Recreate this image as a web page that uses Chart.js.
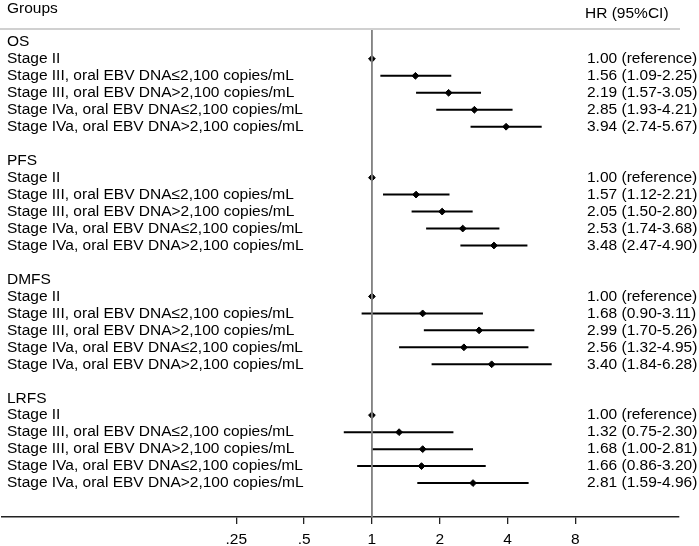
<!DOCTYPE html>
<html>
<head>
<meta charset="utf-8">
<script src="https://cdn.jsdelivr.net/npm/chart.js@4.4.0/dist/chart.umd.min.js"></script>
<style>
	html, body { margin: 0; padding: 0; background: #fff; }
	#wrap { width: 699px; height: 546px; }
</style>
</head>
<body>
<div id="wrap"><canvas id="forestCanvas"></canvas></div>
<script>

// 그룹 이름 (결과 지표)
const groupNames = ['OS', 'PFS', 'DMFS', 'LRFS'];

// 각 그룹 안의 하위 그룹
const subgroups = [
	'Stage II',
	'Stage III, oral EBV DNA≤2,100 copies/mL',
	'Stage III, oral EBV DNA>2,100 copies/mL',
	'Stage IVa, oral EBV DNA≤2,100 copies/mL',
	'Stage IVa, oral EBV DNA>2,100 copies/mL'
];

// HR 및 95% 신뢰구간 (첫 행은 기준값)
const hrOS   = [1.00, 1.56, 2.19, 2.85, 3.94];
const lowOS  = [null, 1.09, 1.57, 1.93, 2.74];
const highOS = [null, 2.25, 3.05, 4.21, 5.67];

const hrPFS   = [1.00, 1.57, 2.05, 2.53, 3.48];
const lowPFS  = [null, 1.12, 1.50, 1.74, 2.47];
const highPFS = [null, 2.21, 2.80, 3.68, 4.90];

const hrDMFS   = [1.00, 1.68, 2.99, 2.56, 3.40];
const lowDMFS  = [null, 0.90, 1.70, 1.32, 1.84];
const highDMFS = [null, 3.11, 5.26, 4.95, 6.28];

const hrLRFS   = [1.00, 1.32, 1.68, 1.66, 2.81];
const lowLRFS  = [null, 0.75, 1.00, 0.86, 1.59];
const highLRFS = [null, 2.30, 2.81, 3.20, 4.96];

// x축 눈금
const xTicks = [0.25, 0.5, 1, 2, 4, 8];
const xTickLabels = ['.25', '.5', '1', '2', '4', '8'];

const hrAll   = [hrOS, hrPFS, hrDMFS, hrLRFS];
const lowAll  = [lowOS, lowPFS, lowDMFS, lowLRFS];
const highAll = [highOS, highPFS, highDMFS, highLRFS];

const FONT = '15.5px "Liberation Sans", Arial, sans-serif';
const rowsPerGroup = subgroups.length + 2;	// 헤더 + 하위그룹 + 빈 줄

let pointData = [];
let ciSets = [];
let leftLabels = [];
let rightLabels = [];

for (let g = 0; g < groupNames.length; g++) {
	let base = g * rowsPerGroup;
	leftLabels.push([base, groupNames[g]]);
	for (let k = 0; k < subgroups.length; k++) {
		let row = base + 1 + k;
		leftLabels.push([row, subgroups[k]]);
		pointData.push({ x: hrAll[g][k], y: row });
		if (lowAll[g][k] === null) {
			rightLabels.push([row, hrAll[g][k].toFixed(2) + ' (reference)']);
		} else {
			rightLabels.push([row, hrAll[g][k].toFixed(2) + ' (' + lowAll[g][k].toFixed(2) + '-' + highAll[g][k].toFixed(2) + ')']);
			ciSets.push({	// 신뢰구간 선
				type: 'line',
				data: [{ x: lowAll[g][k], y: row }, { x: highAll[g][k], y: row }],
				borderColor: '#000',
				borderWidth: 2,
				pointRadius: 0
			});
		}
	}
}

const yMin = -0.76;
const yMax = groupNames.length * rowsPerGroup;

// 글자 그리기 플러그인
const textPlugin = {
	id: 'forestText',
	afterDraw(chart) {
		const c = chart.ctx;
		const y = chart.scales.y;
		const area = chart.chartArea;
		c.save();
		// 상단 회색 구분선
		c.strokeStyle = '#d0d0d0';
		c.lineWidth = 2;
		c.beginPath();
		c.moveTo(0, area.top);
		c.lineTo(area.right + 1, area.top);
		c.stroke();

		c.fillStyle = '#000';
		c.font = FONT;
		c.textBaseline = 'middle';
		c.textAlign = 'left';
		c.fillText('Groups', 7, 9);
		c.fillText('HR (95%CI)', 585, 14);
		leftLabels.forEach(function(l) {
			c.fillText(l[1], 7, y.getPixelForValue(l[0]));
		});
		rightLabels.forEach(function(l) {
			c.fillText(l[1], 587, y.getPixelForValue(l[0]));
		});
		c.restore();
	}
};

new Chart(document.getElementById('forestCanvas').getContext('2d'), {
	type: 'scatter',
	data: {
		datasets: [
			{	// 기준선 HR = 1
				type: 'line',
				data: [{ x: 1, y: yMin }, { x: 1, y: yMax }],
				borderColor: '#808080',
				borderWidth: 1.8,
				pointRadius: 0
			}
		].concat(ciSets).concat([
			{
				data: pointData,
				pointStyle: 'rectRot',
				pointRadius: 3.4,
				backgroundColor: '#000',
				borderColor: '#000',
				borderWidth: 1
			}
		])
	},
	options: {
		responsive: true,
		maintainAspectRatio: false,
		animation: false,
		layout: { autoPadding: false, padding: { left: 2, right: 20, top: 29, bottom: 0 } },
		plugins: {
			legend: { display: false },
			tooltip: { enabled: false }
		},
		scales: {
			x: {
				type: 'logarithmic',
				min: 0.0228,
				max: 23.07,
				afterBuildTicks: function(scale) {
					scale.ticks = xTicks.map(function(v) { return { value: v }; });
				},
				afterFit: function(scale) {
					scale.height = 29;
				},
				grid: {
					drawOnChartArea: false,
					drawTicks: true,
					tickLength: 7,
					color: '#222',
					lineWidth: 1.3
				},
				border: { display: true, color: '#222', width: 1.5 },
				ticks: {
					autoSkip: false,
					maxRotation: 0,
					padding: 6,
					color: '#000',
					font: { family: '"Liberation Sans", Arial, sans-serif', size: 15.5 },
					callback: function(value) {
						let idx = xTicks.indexOf(value);
						return idx >= 0 ? xTickLabels[idx] : '';
					}
				}
			},
			y: {
				type: 'linear',
				reverse: true,
				min: yMin,
				max: yMax,
				display: false
			}
		}
	},
	plugins: [textPlugin]
});
</script>
</body>
</html>
